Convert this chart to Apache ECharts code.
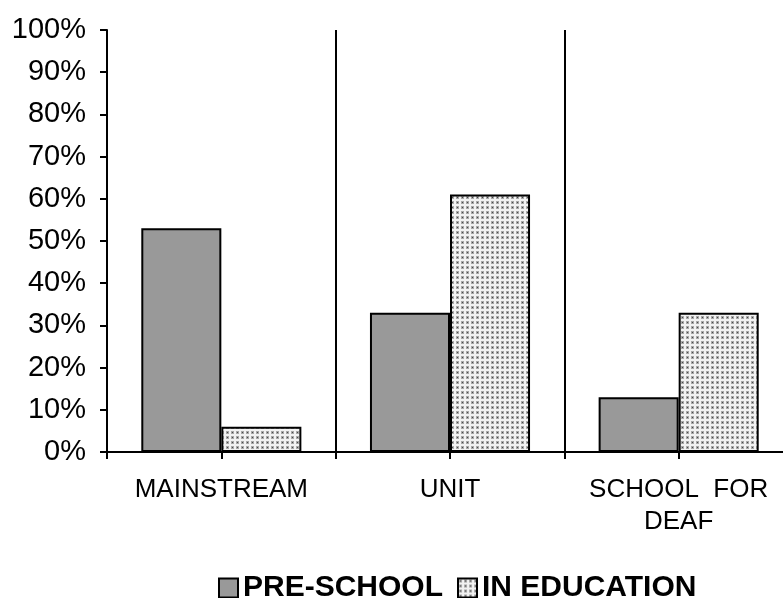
<!DOCTYPE html>
<html>
<head>
<meta charset="utf-8">
<script src="https://cdn.jsdelivr.net/npm/echarts@6/dist/echarts.min.js"></script>
<style>
  html, body { margin: 0; padding: 0; background: #fff; }
  #chart { width: 783px; height: 598px; }
</style>
</head>
<body>
<div id="chart"></div>
<script>
// data
const categories = ['MAINSTREAM', 'UNIT', 'SCHOOL  FOR\nDEAF'];
const preSchool = [53, 33, 13];
const inEducation = [6, 61, 33];
// half-category slots, only used to place the small ticks under the axis
const tickSlots = ['', '', '', '', '', ''];

// dotted fill for the second series
function dotPattern() {
  const c = document.createElement('canvas');
  c.width = 5;
  c.height = 5;
  const ctx = c.getContext('2d');
  ctx.fillStyle = '#f2f2f2';
  ctx.fillRect(0, 0, 5, 5);
  ctx.fillStyle = '#a8a8a8';
  ctx.fillRect(1, 1, 3, 3);
  ctx.fillStyle = '#4a4a4a';
  ctx.fillRect(2, 2, 1, 1);
  return c;
}

const font = "'Liberation Sans', Arial, sans-serif";
const myChart = echarts.init(document.getElementById('chart'));
const option = {
  animation: false,
  grid: { left: 107, top: 30, height: 422, width: 686, containLabel: false, outerBoundsMode: 'none' },
  legend: {
    top: 568,
    left: 213,
    icon: 'rect',
    itemWidth: 19,
    itemHeight: 19,
    itemGap: 14,
    textStyle: { fontFamily: font, fontWeight: 'bold', fontSize: 30, color: '#000' },
    data: ['PRE-SCHOOL', 'IN EDUCATION']
  },
  xAxis: [
    {
      type: 'category',
      data: categories,
      axisLine: { lineStyle: { color: '#000', width: 2 } },
      axisTick: { show: false },
      splitLine: { show: true, lineStyle: { color: '#000', width: 2 } },
      axisLabel: { interval: 0, margin: 22, fontFamily: font, fontSize: 26, color: '#000', lineHeight: 32 }
    },
    {
      type: 'category',
      data: tickSlots,
      position: 'bottom',
      axisLine: { show: false },
      axisTick: { show: true, interval: 0, length: 7, lineStyle: { color: '#000', width: 2 } },
      axisLabel: { show: false },
      splitLine: { show: false }
    }
  ],
  yAxis: {
    type: 'value',
    min: 0,
    max: 100,
    interval: 10,
    axisLine: { show: true, lineStyle: { color: '#000', width: 2 } },
    axisTick: { show: true, length: 7, lineStyle: { color: '#000', width: 2 } },
    splitLine: { show: false },
    axisLabel: { formatter: '{value}%', margin: 21, fontFamily: font, fontSize: 29, color: '#000' }
  },
  series: [
    {
      name: 'PRE-SCHOOL',
      type: 'bar',
      data: preSchool,
      barWidth: '35%',
      barGap: '0%',
      itemStyle: { color: '#999999', borderColor: '#000', borderWidth: 2 }
    },
    {
      name: 'IN EDUCATION',
      type: 'bar',
      data: inEducation,
      barWidth: '35%',
      itemStyle: { color: { image: dotPattern(), repeat: 'repeat' }, borderColor: '#000', borderWidth: 2 }
    }
  ]
};
myChart.setOption(option);
</script>
</body>
</html>
